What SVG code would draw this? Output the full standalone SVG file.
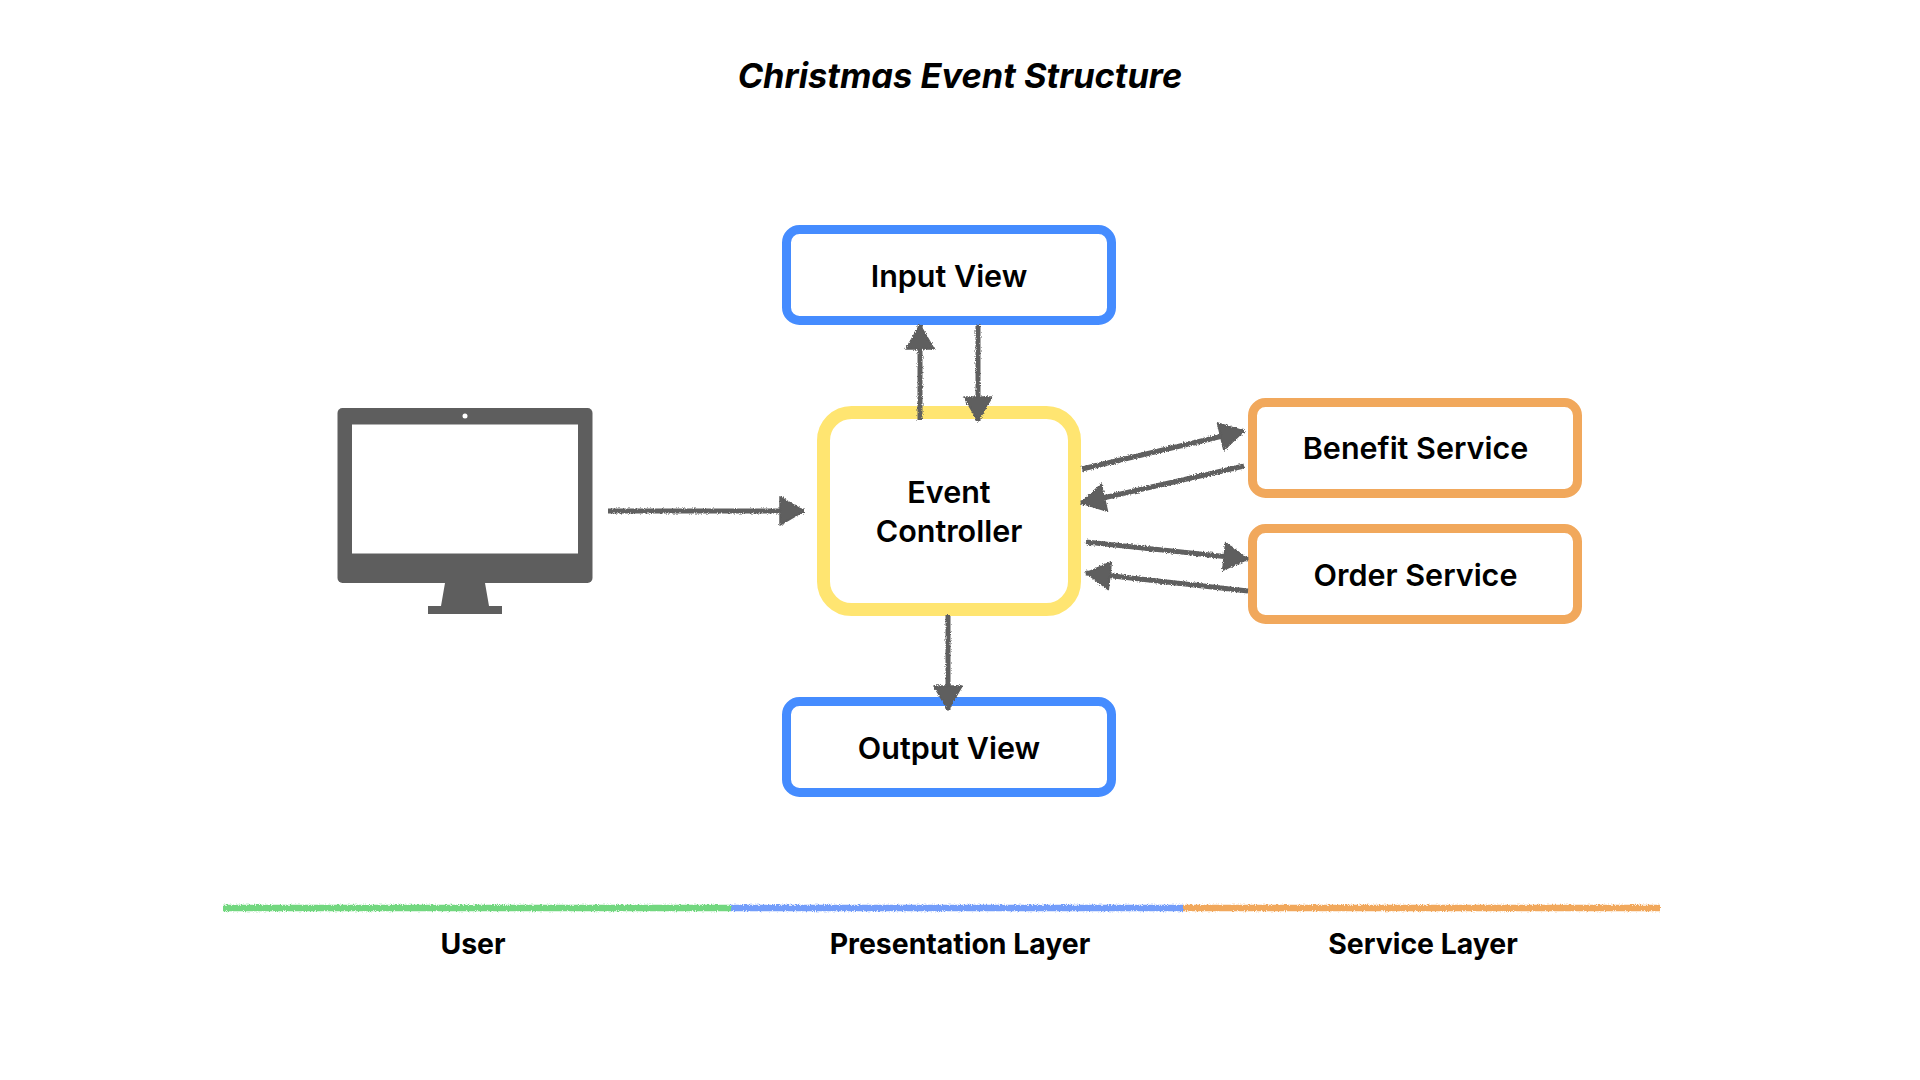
<svg xmlns="http://www.w3.org/2000/svg" width="1920" height="1080" viewBox="0 0 1920 1080">
<style>
text{font-family:Inter,"Liberation Sans",sans-serif;fill:#000;text-anchor:middle}
.lbl{font-size:30.5px;font-weight:600}
.leg{font-size:28.4px;font-weight:700}
.title{font-size:34.4px;font-weight:700;font-style:italic}
.box{fill:#fff;stroke-width:9}
.blue{stroke:#458cff}
.orange{stroke:#f1a85c}
.arrow{stroke:#5e5e5e;stroke-width:5;fill:none;marker-end:url(#head);filter:url(#rough)}
.layer{stroke-width:6.5;fill:none;filter:url(#rough)}
.mon{fill:#5e5e5e}
</style>
<defs>
<filter id="rough" x="0" y="0" width="1920" height="1080" filterUnits="userSpaceOnUse" primitiveUnits="userSpaceOnUse">
<feTurbulence type="fractalNoise" baseFrequency="0.9" numOctaves="2" seed="3"/>
<feDisplacementMap in="SourceGraphic" scale="3.5" xChannelSelector="R" yChannelSelector="G"/>
</filter>
<marker id="head" markerUnits="userSpaceOnUse" markerWidth="30" markerHeight="34" refX="26" refY="16" orient="auto">
<path d="M2 2L26 16L2 30Z" fill="#5e5e5e" stroke="#5e5e5e" stroke-width="1.5" stroke-linejoin="round"/>
</marker>
</defs>
<rect width="1920" height="1080" fill="#fff"/>
<text class="title" x="960" y="88">Christmas Event Structure</text>
<g id="user-monitor">
<rect class="mon" x="337.5" y="408" width="255" height="175" rx="5"/>
<rect x="352" y="424.5" width="226" height="129" fill="#fff"/>
<circle cx="465" cy="416" r="2.5" fill="#fff"/>
<path class="mon" d="M445 583H485L489 606H502V614H428V606H441Z"/>
</g>
<g id="event-controller">
<rect x="823.5" y="412.5" width="251" height="197" rx="28" fill="#fff" stroke="#ffe571" stroke-width="13"/>
<text class="lbl" x="949" y="503">Event</text>
<text class="lbl" x="949" y="541.5">Controller</text>
</g>
<g id="input-view">
<rect class="box blue" x="786.5" y="229.5" width="325" height="91" rx="13"/>
<text class="lbl" x="949" y="287">Input View</text>
</g>
<g id="output-view">
<rect class="box blue" x="786.5" y="701.5" width="325" height="91" rx="13"/>
<text class="lbl" x="949" y="759">Output View</text>
</g>
<g id="benefit-service">
<rect class="box orange" x="1252.5" y="402.5" width="325" height="91" rx="13"/>
<text class="lbl" x="1415.5" y="459">Benefit Service</text>
</g>
<g id="order-service">
<rect class="box orange" x="1252.5" y="528.5" width="325" height="91" rx="13"/>
<text class="lbl" x="1415.5" y="586">Order Service</text>
</g>
<g id="connectors">
<path class="arrow" d="M608 511L804 511"/>
<path class="arrow" d="M920 420L920 325"/>
<path class="arrow" d="M978 325L978 421"/>
<path class="arrow" d="M1082 469L1244 431"/>
<path class="arrow" d="M1244 466L1081 503"/>
<path class="arrow" d="M1086 542L1248 559"/>
<path class="arrow" d="M1248 591L1086 573"/>
<path class="arrow" d="M948 615L948 710"/>
</g>
<g id="layers">
<path class="layer" stroke="#72d77f" d="M223 908H731"/>
<path class="layer" stroke="#739dfa" d="M731 908H1183"/>
<path class="layer" stroke="#f1a85c" d="M1183 908H1660"/>
<text class="leg" x="473" y="954">User</text>
<text class="leg" x="960" y="954">Presentation Layer</text>
<text class="leg" x="1423" y="954">Service Layer</text>
</g>
</svg>
